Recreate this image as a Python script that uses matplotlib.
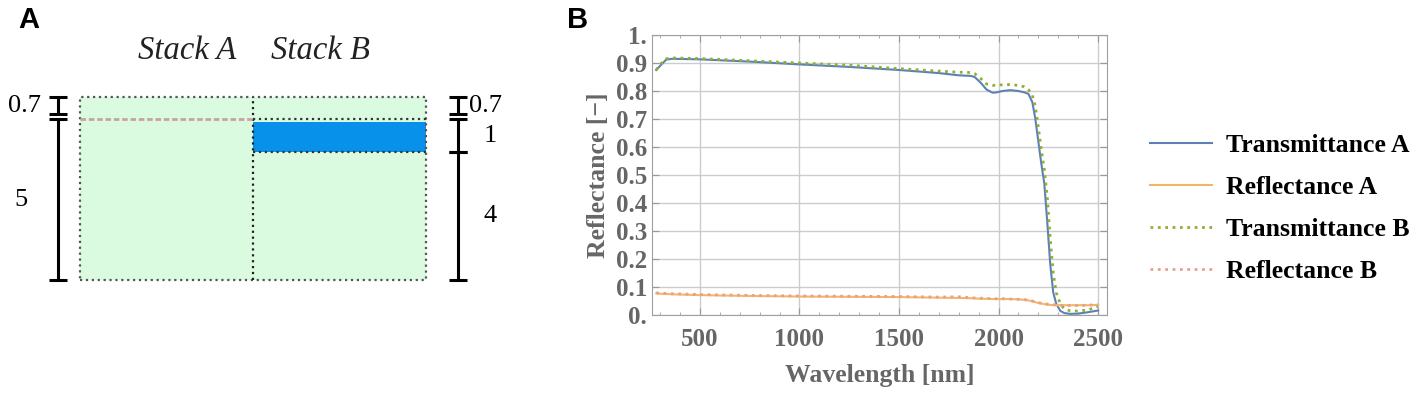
import numpy as np
import matplotlib
matplotlib.use("Agg")
import matplotlib.pyplot as plt
from matplotlib.ticker import MultipleLocator, FuncFormatter

# ---- panel A: layer thicknesses (top to bottom)
stack_a = [0.7, 5]
stack_b = [0.7, 1, 4]
stack_names = ["Stack A", "Stack B"]

# ---- panel B: spectra
wl = [280, 300, 330, 360, 500, 750, 1000, 1250, 1500, 1700, 1800, 1860, 1880,
      1910, 1940, 1970, 1990, 2020, 2060, 2100, 2130, 2150, 2170, 2185, 2200,
      2215, 2230, 2245, 2260, 2275, 2290, 2310, 2330, 2360, 2400, 2450, 2500]
trans_a = [0.875, 0.89, 0.912, 0.915, 0.913, 0.905, 0.895, 0.886, 0.875, 0.864,
           0.856, 0.854, 0.85, 0.83, 0.805, 0.794, 0.795, 0.80, 0.803, 0.80,
           0.795, 0.79, 0.76, 0.70, 0.62, 0.54, 0.47, 0.33, 0.18, 0.08, 0.04,
           0.015, 0.007, 0.004, 0.005, 0.01, 0.016]
refl_a = [0.077, 0.076, 0.075, 0.074, 0.071, 0.068, 0.066, 0.065, 0.064, 0.062,
          0.061, 0.060, 0.059, 0.058, 0.058, 0.057, 0.057, 0.057, 0.057, 0.056,
          0.054, 0.052, 0.049, 0.046, 0.043, 0.041, 0.039, 0.037, 0.036, 0.035,
          0.035, 0.035, 0.035, 0.035, 0.035, 0.035, 0.036]
trans_b = [0.875, 0.895, 0.915, 0.918, 0.916, 0.908, 0.90, 0.892, 0.880, 0.871,
           0.867, 0.866, 0.862, 0.845, 0.825, 0.820, 0.821, 0.822, 0.823, 0.82,
           0.815, 0.805, 0.785, 0.745, 0.67, 0.59, 0.52, 0.42, 0.27, 0.15, 0.08,
           0.04, 0.022, 0.015, 0.014, 0.018, 0.03]
refl_b = [0.079, 0.078, 0.077, 0.076, 0.073, 0.070, 0.068, 0.067, 0.066, 0.064,
          0.065, 0.062, 0.061, 0.060, 0.059, 0.058, 0.058, 0.058, 0.057, 0.056,
          0.055, 0.053, 0.050, 0.047, 0.044, 0.042, 0.040, 0.039, 0.038, 0.037,
          0.036, 0.035, 0.034, 0.034, 0.034, 0.035, 0.037]
series = [("Transmittance A", trans_a, "#5E81B5", "-"),
          ("Reflectance A", refl_a, "#F2B766", "-"),
          ("Transmittance B", trans_b, "#8FB032", ":"),
          ("Reflectance B", refl_b, "#E8A08C", ":")]

serif = "Liberation Serif"
grey = "#666666"

fig = plt.figure(figsize=(14.21, 3.97), dpi=100)

# ================= panel A =================
ax = fig.add_axes([0, 0, 540 / 1421, 1])
ax.set_xlim(-0.462, 2.659)
ax.set_ylim(-3.64, 8.72)
ax.axis("off")

total = sum(stack_a)
ax.fill_between([0, 2], 0, total, color="#dbfbe1", lw=0, zorder=0)
ax.plot([0, 2, 2, 0, 0], [0, 0, total, total, 0], ls=":", color="#555555", lw=1.6)
ax.plot([1, 1], [0, total], ls=":", color="#222222", lw=1.6)

# stack A interface
bound_a = total - np.cumsum(stack_a)[:-1]
for b in bound_a:
    ax.plot([0, 1], [b + 0.03, b + 0.03], ls="--", color="#c9a3a3", lw=2, dashes=(2, 1))
# stack B middle layer
bound_b = total - np.cumsum(stack_b)
ax.fill_between([1, 2], bound_b[1], bound_b[0] - 0.08, color="#0791ea", lw=0, zorder=1)
for b in bound_b[:2]:
    ax.plot([1, 2], [b, b], ls=":", color="#333333", lw=1.6, zorder=2)

for i, name in enumerate(stack_names):
    ax.text(0.62 + i * 0.77, 7.15, name, ha="center", va="center",
            fontsize=23.5, style="italic", family=serif, color="#222222")


def scale_bar(x, layers, side):
    top = sum(layers)
    edges = top - np.concatenate([[0], np.cumsum(layers)])
    for k, t in enumerate(layers):
        y1 = edges[k]
        y0 = edges[k + 1]
        if k == 0:
            y0 += 0.16
        ax.plot([x, x], [y0, y1], color="black", lw=2.2, solid_capstyle="butt")
        for yy in (y0, y1):
            ax.plot([x - 0.052, x + 0.052], [yy, yy], color="black", lw=2.2,
                    solid_capstyle="butt")
        lab = f"{t:g}"
        mid = (y0 + y1) / 2
        if side == "left":
            off = -17 if k == 0 else -30
            ax.annotate(lab, (x, mid), xytext=(off, 0), textcoords="offset pixels",
                        ha="right", va="center", fontsize=19, family=serif)
        else:
            if k == 0:
                ax.annotate(lab, (x, mid), xytext=(11, 0), textcoords="offset pixels",
                            ha="left", va="center", fontsize=19, family=serif)
            else:
                ax.annotate(lab, (x, mid), xytext=(32, 0), textcoords="offset pixels",
                            ha="center", va="center", fontsize=19, family=serif)


scale_bar(-0.127, stack_a, "left")
scale_bar(2.185, stack_b, "right")

fig.text(18 / 1421, 1 - 20 / 397, "A", fontsize=21, weight="bold",
         family="Liberation Sans", va="center")
fig.text(567 / 1421, 1 - 20 / 397, "B", fontsize=21, weight="bold",
         family="Liberation Sans", va="center")

# ================= panel B =================
bx = fig.add_axes([652 / 1421, (397 - 315) / 397, 455 / 1421, 280 / 397])
for label, vals, col, ls in series:
    lw = 1.5 if ls == "-" else 2.0
    bx.plot(wl, vals, ls=ls, color=col, lw=lw, label=label)

bx.set_xlim(259, 2545)
bx.set_ylim(0, 1)
bx.xaxis.set_major_locator(MultipleLocator(500))
bx.xaxis.set_minor_locator(MultipleLocator(100))
bx.yaxis.set_major_locator(MultipleLocator(0.1))


def yfmt(v, pos):
    s = f"{v:.1f}"
    return s[:-1] if s.endswith(".0") else s


bx.yaxis.set_major_formatter(FuncFormatter(yfmt))
bx.grid(True, which="major", color="#cccccc", lw=1)
bx.tick_params(which="both", direction="in", top=True, right=True, color="#999999",
               labelcolor=grey, labelsize=18)
bx.tick_params(axis="x", which="major", length=5, pad=9)
bx.tick_params(axis="y", which="major", length=5)
bx.tick_params(which="minor", length=2.5)
for lab in bx.get_xticklabels() + bx.get_yticklabels():
    lab.set_family(serif)
    lab.set_weight("bold")
for sp in bx.spines.values():
    sp.set_color("#a0a0a0")
bx.set_xlabel("Wavelength [nm]", family=serif, weight="bold", fontsize=18.5,
              color=grey, labelpad=10)
bx.set_ylabel("Reflectance [\u2212]", family=serif, weight="bold", fontsize=18.5,
              color=grey, labelpad=4)

fig.legend(loc="upper left", bbox_to_anchor=(1150 / 1421, 1 - 134 / 397),
           frameon=False, borderpad=0, borderaxespad=0, handlelength=2.4,
           handletextpad=0.55, labelspacing=0.74,
           prop={"family": serif, "weight": "bold", "size": 18.5})

fig.savefig("out.png", dpi=100)
